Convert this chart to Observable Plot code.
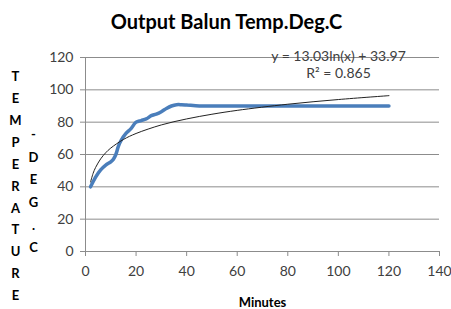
<!DOCTYPE html>
<html>
<head>
<meta charset="utf-8">
<script src="https://cdn.jsdelivr.net/npm/d3@7"></script>
<script src="https://cdn.jsdelivr.net/npm/@observablehq/plot@0.6"></script>
<style>
  html, body { margin: 0; padding: 0; background: #fff; }
  #chart { width: 451px; height: 309px; overflow: hidden; }
</style>
</head>
<body>
<div id="chart"></div>
<script>
// Measured series (minutes, temperature °C)
const minutes = [2, 4, 6, 8, 10, 11, 12, 13, 14, 16, 18, 20, 22, 24, 26, 28, 30, 32, 34, 36, 38, 40, 45, 50, 60, 70, 80, 90, 100, 110, 120];
const temps   = [40, 46, 50.5, 53.5, 55.5, 57, 60, 65, 68.5, 73, 76, 80, 81, 82, 84, 85, 86.5, 88.5, 90, 90.8, 90.8, 90.6, 90, 90, 90, 90, 90, 90, 90, 90, 90];

// Logarithmic trendline as drawn
const trendX = [2, 3, 4, 6, 8, 10, 15, 20, 30, 40, 50, 60, 80, 100, 120];
const trendY = [43.0, 48.3, 52.0, 57.3, 61.1, 64.0, 69.3, 73.0, 78.3, 82.0, 84.9, 87.3, 91.1, 94.0, 96.4];

const xTicks = [0, 20, 40, 60, 80, 100, 120, 140];
const yTicks = [0, 20, 40, 60, 80, 100, 120];

const titleText = "Output Balun Temp.Deg.C";
const xLabel = "Minutes";
const yLabel1 = "TEMPERATURE";
const yLabel2 = "-DEG.C";
const eqText = "y = 13.03ln(x) + 33.97";
const r2Text = "R² = 0.865";

const series = minutes.map((m, i) => ({x: m, y: temps[i]}));
const trend = trendX.map((m, i) => ({x: m, y: trendY[i]}));

const font = "Lato, sans-serif";
const grey = "#8c8c8c";

const plot = Plot.plot({
  width: 451,
  height: 309,
  marginLeft: 85,
  marginRight: 12,
  marginTop: 57,
  marginBottom: 58,
  style: {fontFamily: font, background: "#fff", overflow: "visible"},
  x: {domain: [0, 140], ticks: xTicks},
  y: {domain: [0, 120], ticks: yTicks},
  marks: [
    Plot.gridY(yTicks, {stroke: grey, strokeOpacity: 1, strokeWidth: 1}),
    Plot.ruleX([0], {stroke: grey}),
    Plot.axisY(yTicks, {tickSize: 5, tickPadding: 7, fontSize: 14, fill: "#404040", stroke: grey, label: null}),
    Plot.axisX(xTicks, {tickSize: 5, tickPadding: 10, fontSize: 14, fill: "#404040", stroke: grey, label: null}),
    Plot.line(series, {x: "x", y: "y", stroke: "#4a7ebb", strokeWidth: 3.5, curve: "catmull-rom"}),
    Plot.line(trend, {x: "x", y: "y", stroke: "#222", strokeWidth: 1, curve: "catmull-rom"}),
    Plot.text([eqText], {frameAnchor: "top-left", dx: 253, dy: -1, text: d => d, textAnchor: "middle", lineAnchor: "middle", fontSize: 14, fill: "#404040"}),
    Plot.text([r2Text], {frameAnchor: "top-left", dx: 253, dy: 16, text: d => d, textAnchor: "middle", lineAnchor: "middle", fontSize: 14, fill: "#404040"}),
    Plot.text([titleText], {frameAnchor: "top-left", dx: 141, dy: -35, text: d => d, textAnchor: "middle", lineAnchor: "middle", fontSize: 20, fontWeight: "bold", fill: "#000"}),
    Plot.text([xLabel], {frameAnchor: "bottom-left", dx: 177, dy: 51, text: d => d, textAnchor: "middle", lineAnchor: "middle", fontSize: 13, fontWeight: "bold", fill: "#000"}),
    Plot.text([yLabel1.split("").join("\n")], {frameAnchor: "top-left", dx: -70, dy: 126, text: d => d, textAnchor: "middle", lineAnchor: "middle", lineHeight: 1.69, fontSize: 13, fontWeight: "bold", fill: "#000"}),
    Plot.text([yLabel2.split("").join("\n")], {frameAnchor: "top-left", dx: -52, dy: 131, text: d => d, textAnchor: "middle", lineAnchor: "middle", lineHeight: 1.74, fontSize: 13, fontWeight: "bold", fill: "#000"})
  ]
});
document.getElementById("chart").appendChild(plot);
</script>
</body>
</html>
